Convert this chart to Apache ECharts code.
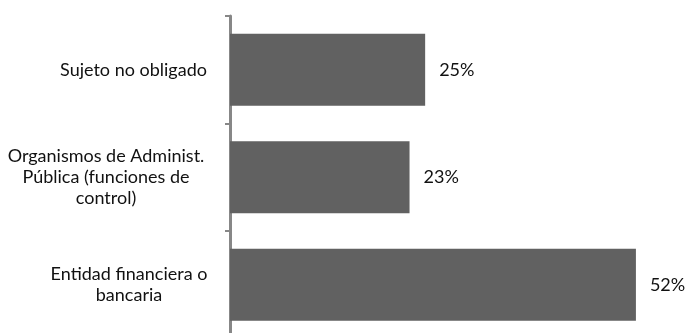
<!DOCTYPE html>
<html>
<head>
<meta charset="utf-8">
<style>
  html, body { margin: 0; padding: 0; background: #ffffff; }
  #chart { width: 689px; height: 333px; }
</style>
<script src="https://cdn.jsdelivr.net/npm/echarts@6/dist/echarts.min.js"></script>
</head>
<body>
<div id="chart"></div>
<script>
// Categories, top to bottom
var categories = [
  'Sujeto no obligado',
  'Organismos de Administ.\nPública (funciones de\ncontrol)',
  'Entidad financiera o\nbancaria'
];
// Share of each category, in percent
var values = [25, 23, 52];
// Width of the box each category label is centred in
var labelBoxWidth = [169, 224, 178];

var FONT = 'Lato, "Open Sans", sans-serif';

// One rich style per category so each label block is centred in its own box
var richStyles = {};
labelBoxWidth.forEach(function (w, i) {
  richStyles['c' + i] = {
    width: w,
    align: 'center',
    color: '#111111',
    fontFamily: FONT,
    fontSize: 18,
    lineHeight: 21
  };
});

var chart = echarts.init(document.getElementById('chart'), null, { renderer: 'canvas' });

chart.setOption({
  animation: false,
  backgroundColor: '#ffffff',
  grid: {
    left: 230, right: 0, top: 16, bottom: -5.5,
    containLabel: false,
    outerBoundsMode: 'none'
  },
  xAxis: {
    type: 'value',
    min: 0,
    max: 58.8,
    show: false
  },
  yAxis: {
    type: 'category',
    inverse: true,
    offset: 2,
    data: categories,
    axisLine: { show: true, lineStyle: { color: '#878787', width: 3 } },
    axisTick: { show: true, inside: false, length: 5, lineStyle: { color: '#878787', width: 2 } },
    axisLabel: {
      margin: 10,
      align: 'right',
      fontFamily: FONT,
      fontSize: 18,
      lineHeight: 21,
      color: '#111111',
      formatter: function (value, index) {
        return value.split('\n').map(function (line) {
          return '{c' + index + '|' + line + '}';
        }).join('\n');
      },
      rich: richStyles
    },
    splitLine: { show: false }
  },
  series: [{
    type: 'bar',
    data: values,
    barWidth: 72,
    itemStyle: { color: '#616161' },
    label: {
      show: true,
      position: 'right',
      distance: 14,
      color: '#111111',
      fontFamily: FONT,
      fontSize: 18,
      formatter: function (p) { return p.value + '%'; }
    }
  }]
});
</script>
</body>
</html>
